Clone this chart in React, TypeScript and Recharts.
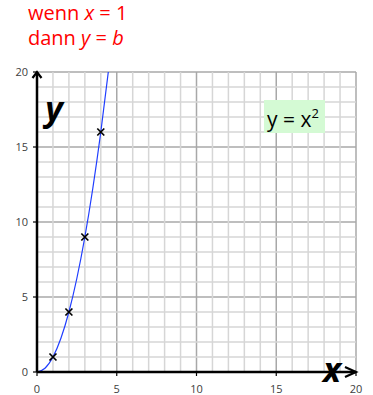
import React from 'react';
import {
  ComposedChart,
  Line,
  Scatter,
  XAxis,
  YAxis,
  CartesianGrid,
  ReferenceDot,
  ReferenceLine,
} from 'recharts';

// parabola y = x^2, sampled along the visible part of the curve
const curveX = [0, 0.5, 1, 1.5, 2, 2.5, 3, 3.5, 4, 4.47];
const curveY = [0, 0.25, 1, 2.25, 4, 6.25, 9, 12.25, 16, 20];

// marked points
const markX = [1, 2, 3, 4];
const markY = [1, 4, 9, 16];

const majorTicks = [0, 5, 10, 15, 20];
// unit lines between the major ones
const minorTicks = [1, 2, 3, 4, 6, 7, 8, 9, 11, 12, 13, 14, 16, 17, 18, 19];

const curveData = curveX.map((x, i) => ({ x, y: curveY[i] }));
const markData = markX.map((x, i) => ({ x, y: markY[i] }));

const FONT = '"Open Sans", "Liberation Sans", sans-serif';
const MINOR = '#d6d6d6';

const Cross = (props: any) => {
  const { cx, cy } = props;
  const s = 3.5;
  return (
    <path
      d={`M${cx - s},${cy - s}L${cx + s},${cy + s}M${cx - s},${cy + s}L${cx + s},${cy - s}`}
      stroke="#000"
      strokeWidth={1.7}
      fill="none"
    />
  );
};

const ArrowUp = (props: any) => {
  const { cx, cy } = props;
  return (
    <path
      d={`M${cx - 4.5},${cy + 6}L${cx},${cy}L${cx + 4.5},${cy + 6}`}
      stroke="#000"
      strokeWidth={2.2}
      fill="none"
    />
  );
};

const ArrowRight = (props: any) => {
  const { cx, cy } = props;
  return (
    <path
      d={`M${cx - 11},${cy - 5}L${cx},${cy}L${cx - 11},${cy + 5}`}
      stroke="#000"
      strokeWidth={2.2}
      fill="none"
    />
  );
};

const titleStyle: React.CSSProperties = {
  position: 'absolute',
  left: 28,
  color: '#ff0000',
  fontFamily: FONT,
  fontSize: 20,
  lineHeight: '22px',
  whiteSpace: 'nowrap',
};

export default function App() {
  return (
    <div style={{ position: 'absolute', left: 0, top: 0, width: 373, height: 395, background: '#fff' }}>
      <div style={{ ...titleStyle, top: 2 }}>wenn <i>x</i> = 1</div>
      <div style={{ ...titleStyle, top: 27 }}>dann <i>y</i> = <i>b</i></div>
      <ComposedChart
        width={373}
        height={395}
        margin={{ top: 72, right: 17, bottom: 0, left: 0 }}
        style={{ position: 'absolute', left: 0, top: 0 }}
      >
        {minorTicks.map((v) => (
          <ReferenceLine key={`vx${v}`} x={v} stroke={MINOR} strokeWidth={1.5} />
        ))}
        {minorTicks.map((v) => (
          <ReferenceLine key={`hy${v}`} y={v} stroke={MINOR} strokeWidth={1.5} />
        ))}
        <CartesianGrid stroke="#a8a8a8" strokeWidth={1.5} />
        <XAxis
          dataKey="x"
          type="number"
          domain={[0, 20]}
          ticks={majorTicks}
          height={23}
          axisLine={{ stroke: '#000', strokeWidth: 2.5 }}
          tickLine={{ stroke: '#000', strokeWidth: 1.2 }}
          tickSize={4}
          tickMargin={9}
          tick={{ fill: '#404040', fontSize: 11, fontFamily: FONT }}
        />
        <YAxis
          dataKey="y"
          type="number"
          domain={[0, 20]}
          ticks={majorTicks}
          width={37}
          axisLine={{ stroke: '#000', strokeWidth: 2.5 }}
          tickLine={{ stroke: '#000', strokeWidth: 1.2 }}
          tickSize={4}
          tickMargin={5}
          tick={{ fill: '#404040', fontSize: 11, fontFamily: FONT }}
        />
        <Line
          data={curveData}
          dataKey="y"
          type="monotone"
          stroke="#1f3dff"
          strokeWidth={1.2}
          dot={false}
          activeDot={false}
          isAnimationActive={false}
        />
        <Scatter data={markData} dataKey="y" shape={<Cross />} isAnimationActive={false} />
        <ReferenceDot x={0} y={20} shape={<ArrowUp />} ifOverflow="visible" />
        <ReferenceDot x={20} y={0} shape={<ArrowRight />} ifOverflow="visible" />
      </ComposedChart>
      {/* axis names and the formula box sit above the grid */}
      <svg
        width={373}
        height={395}
        style={{ position: 'absolute', left: 0, top: 0, pointerEvents: 'none' }}
      >
        <text x={54} y={121} fontFamily={FONT} fontSize={34} fontWeight="bold" fontStyle="italic" textAnchor="middle" fill="#000">
          y
        </text>
        <text x={332} y={382} fontFamily={FONT} fontSize={34} fontWeight="bold" fontStyle="italic" textAnchor="middle" fill="#000">
          x
        </text>
        <rect x={264} y={100} width={61} height={33} fill="#d4fad4" />
        <text x={267} y={127} fontFamily={FONT} fontSize={21} fill="#000">
          y = x<tspan dy={-9} fontSize={13}>2</tspan>
        </text>
      </svg>
    </div>
  );
}
